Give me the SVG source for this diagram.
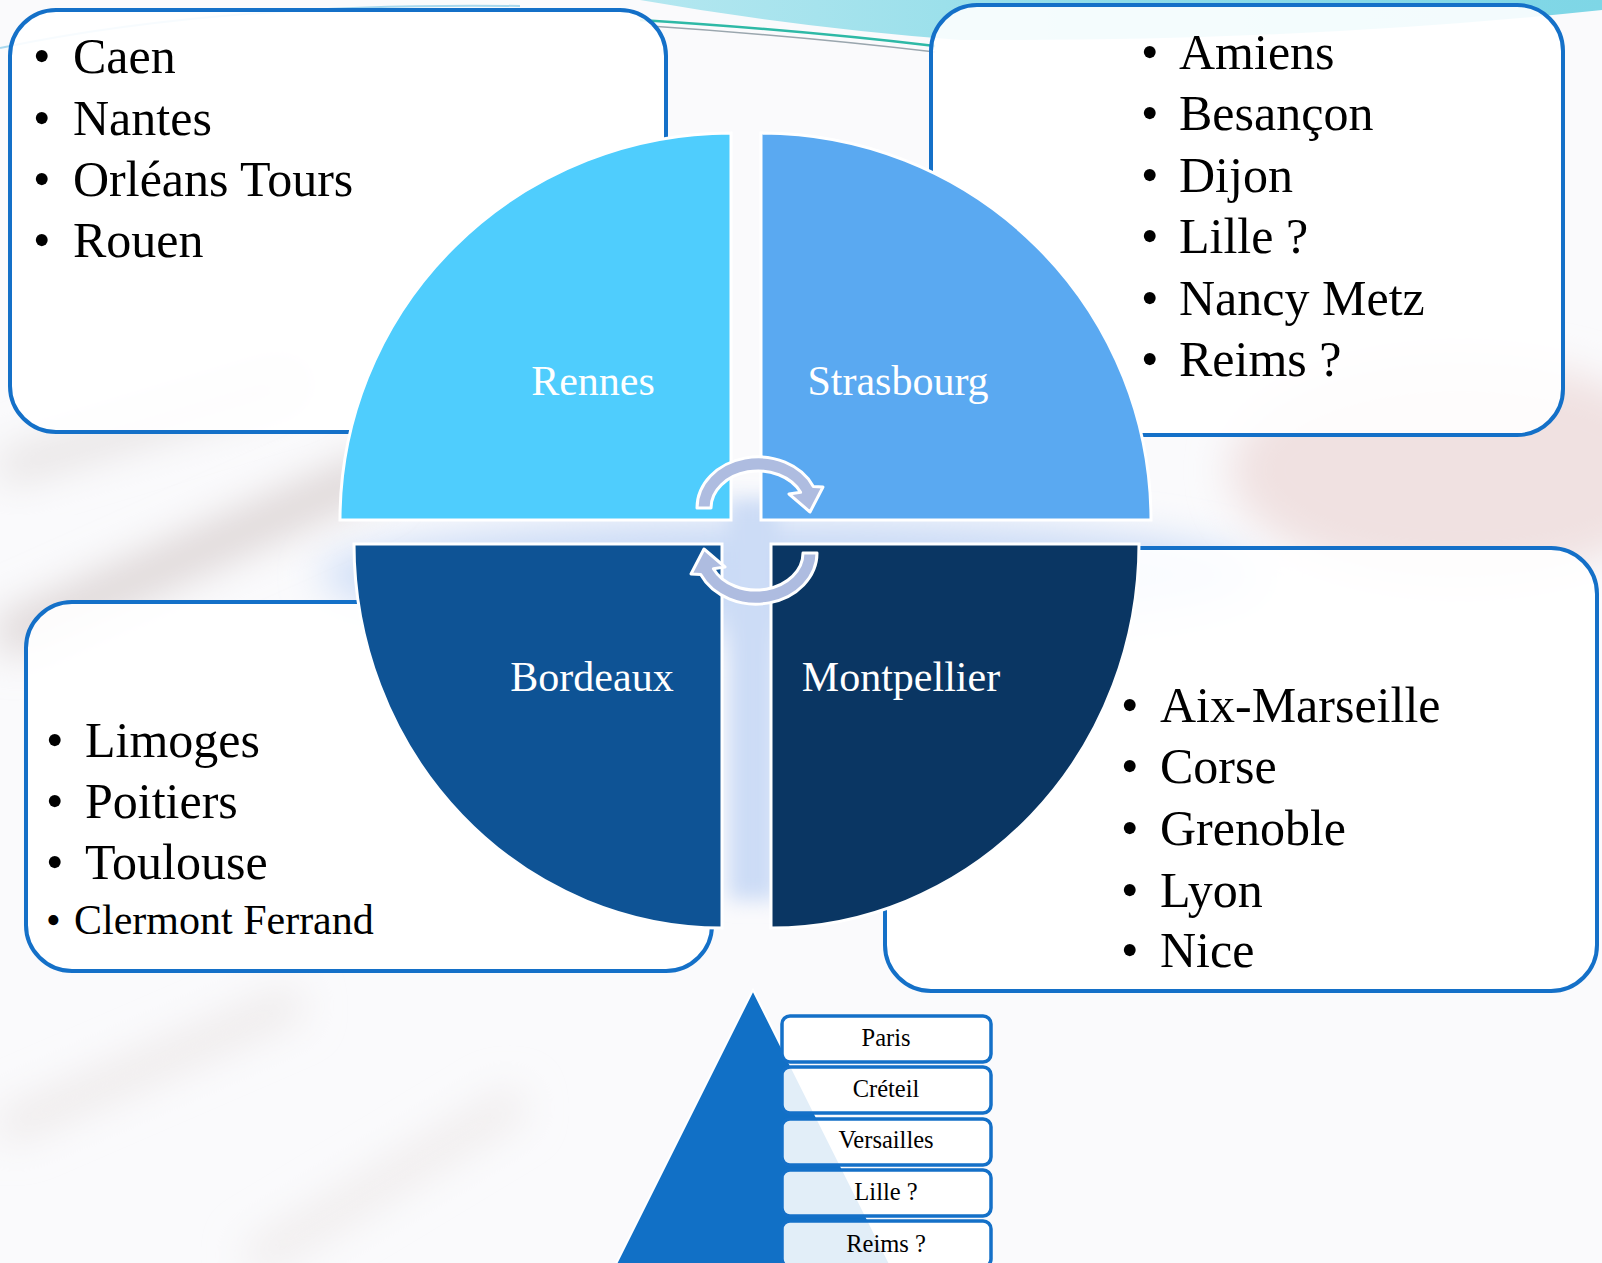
<svg xmlns="http://www.w3.org/2000/svg" width="1602" height="1263" viewBox="0 0 1602 1263">
<defs>
<style>
.box{fill:#ffffff;fill-opacity:0.9;stroke:#1470C8;stroke-width:4}
.li{font-family:"Liberation Serif",serif;font-size:50px;fill:#000}
.lbl{font-family:"Liberation Serif",serif;font-size:42px;fill:#ffffff}
.q{stroke:#ffffff;stroke-width:3}
.arw{fill:#AEBCE0;stroke:#ffffff;stroke-width:3;stroke-linejoin:round}
.pb{fill:#ffffff;fill-opacity:0.88;stroke:#1470C8;stroke-width:3.5}
.pt{font-family:"Liberation Serif",serif;font-size:24.5px;fill:#000;text-anchor:middle}
</style>
<filter id="b20" x="-50%" y="-50%" width="200%" height="200%"><feGaussianBlur stdDeviation="20"/></filter>
<filter id="b10" x="-50%" y="-50%" width="200%" height="200%"><feGaussianBlur stdDeviation="10"/></filter>
<linearGradient id="cy" x1="0" y1="0" x2="1" y2="0">
<stop offset="0" stop-color="#B4E7F0"/>
<stop offset="0.5" stop-color="#8EDCE8"/>
<stop offset="1" stop-color="#7ED6E6"/>
</linearGradient>
</defs>

<g id="background">
<rect x="0" y="0" width="1602" height="1263" fill="#FAFAFC"/>
<ellipse cx="790" cy="575" rx="470" ry="55" fill="#C9DAF6" filter="url(#b20)"/>
<rect x="728" y="500" width="50" height="400" fill="#CCDCF6" filter="url(#b10)"/>
<ellipse cx="1460" cy="470" rx="230" ry="110" fill="#F0E1E1" filter="url(#b20)"/>
<path d="M0 640 L380 470" stroke="#DCD4D4" stroke-width="40" fill="none" filter="url(#b20)"/>
<path d="M0 470 L300 380" stroke="#E4E0E0" stroke-width="30" fill="none" filter="url(#b20)"/>
<path d="M0 1130 L300 1000" stroke="#ECE8E8" stroke-width="30" fill="none" filter="url(#b20)"/>
<path d="M250 1263 L520 1100" stroke="#EEEAEA" stroke-width="30" fill="none" filter="url(#b20)"/>
<path d="M640 0 Q 800 28 960 40 Q 1300 42 1602 10 L1602 0 Z" fill="url(#cy)"/>
<path d="M0 48 Q 220 2 520 6" stroke="#A8D8EE" stroke-width="2" fill="none"/>
<path d="M640 20 Q 800 30 935 46" stroke="#2EB9A6" stroke-width="2.5" fill="none"/>
<path d="M650 26 Q 800 36 935 52" stroke="#9AA6AE" stroke-width="1.5" fill="none"/>
</g>

<g id="box-top-left">
<rect class="box" x="10" y="10" width="656" height="422" rx="46"/>
<text class="li" x="33" y="73">•</text><text class="li" x="73" y="73">Caen</text>
<text class="li" x="33" y="135">•</text><text class="li" x="73" y="135">Nantes</text>
<text class="li" x="33" y="196">•</text><text class="li" x="73" y="196">Orléans Tours</text>
<text class="li" x="33" y="257">•</text><text class="li" x="73" y="257">Rouen</text>
</g>

<g id="box-top-right">
<rect class="box" x="931" y="5" width="632" height="430" rx="46"/>
<text class="li" x="1141" y="69">•</text><text class="li" x="1179" y="69">Amiens</text>
<text class="li" x="1141" y="130">•</text><text class="li" x="1179" y="130">Besançon</text>
<text class="li" x="1141" y="192">•</text><text class="li" x="1179" y="192">Dijon</text>
<text class="li" x="1141" y="253">•</text><text class="li" x="1179" y="253">Lille ?</text>
<text class="li" x="1141" y="315">•</text><text class="li" x="1179" y="315">Nancy Metz</text>
<text class="li" x="1141" y="376">•</text><text class="li" x="1179" y="376">Reims ?</text>
</g>

<g id="box-bottom-left">
<rect class="box" x="26" y="602" width="686" height="369" rx="46"/>
<text class="li" x="46" y="757">•</text><text class="li" x="85" y="757">Limoges</text>
<text class="li" x="46" y="818">•</text><text class="li" x="85" y="818">Poitiers</text>
<text class="li" x="46" y="879">•</text><text class="li" x="85" y="879">Toulouse</text>
<text class="li" x="46" y="934" style="font-size:42px">•</text><text class="li" x="74" y="934" style="font-size:42px">Clermont Ferrand</text>
</g>

<g id="box-bottom-right">
<rect class="box" x="885" y="548" width="712" height="443" rx="46"/>
<text class="li" x="1121" y="722">•</text><text class="li" x="1160" y="722">Aix-Marseille</text>
<text class="li" x="1121" y="783">•</text><text class="li" x="1160" y="783">Corse</text>
<text class="li" x="1121" y="845">•</text><text class="li" x="1160" y="845">Grenoble</text>
<text class="li" x="1121" y="907">•</text><text class="li" x="1160" y="907">Lyon</text>
<text class="li" x="1121" y="967">•</text><text class="li" x="1160" y="967">Nice</text>
</g>

<g id="q-rennes">
<path class="q" d="M731 520 L340 520 A391 387 0 0 1 731 133 Z" fill="#4FCDFD"/>
<text class="lbl" x="593" y="395" text-anchor="middle">Rennes</text>
</g>
<g id="q-strasbourg">
<path class="q" d="M761 520 L761 133 A390 387 0 0 1 1151 520 Z" fill="#5AA9F1"/>
<text class="lbl" x="898" y="395" text-anchor="middle">Strasbourg</text>
</g>
<g id="q-bordeaux">
<path class="q" d="M722 544 L354 544 A368 384 0 0 0 722 928 Z" fill="#0E5395"/>
<text class="lbl" x="592" y="691" text-anchor="middle">Bordeaux</text>
</g>
<g id="q-montpellier">
<path class="q" d="M771 544 L771 928 A368 384 0 0 0 1139 544 Z" fill="#0A3663"/>
<text class="lbl" x="901" y="691" text-anchor="middle">Montpellier</text>
</g>

<g id="connectors">
<path class="arw" d="M697 508 A61 51 0 0 1 813.3 486.4 L823 487 L810 512 L789 494 L800.6 492.3 A47 37 0 0 0 711 508 Z"/>
<path class="arw" transform="rotate(180 757 530.5)" d="M697 508 A61 51 0 0 1 813.3 486.4 L823 487 L810 512 L789 494 L800.6 492.3 A47 37 0 0 0 711 508 Z"/>
</g>

<g id="pyramid">
<polygon points="753,990 890,1264 616,1264" fill="#1170C6" stroke="#ffffff" stroke-width="2"/>
</g>
<g id="p-paris"><rect class="pb" x="782" y="1016" width="209" height="46" rx="8"/><text class="pt" x="886" y="1046">Paris</text></g>
<g id="p-creteil"><rect class="pb" x="782" y="1067" width="209" height="46" rx="8"/><text class="pt" x="886" y="1097">Créteil</text></g>
<g id="p-versailles"><rect class="pb" x="782" y="1119" width="209" height="46" rx="8"/><text class="pt" x="886" y="1148">Versailles</text></g>
<g id="p-lille"><rect class="pb" x="782" y="1170" width="209" height="46" rx="8"/><text class="pt" x="886" y="1200">Lille ?</text></g>
<g id="p-reims"><rect class="pb" x="782" y="1221" width="209" height="46" rx="8"/><text class="pt" x="886" y="1252">Reims ?</text></g>
</svg>
